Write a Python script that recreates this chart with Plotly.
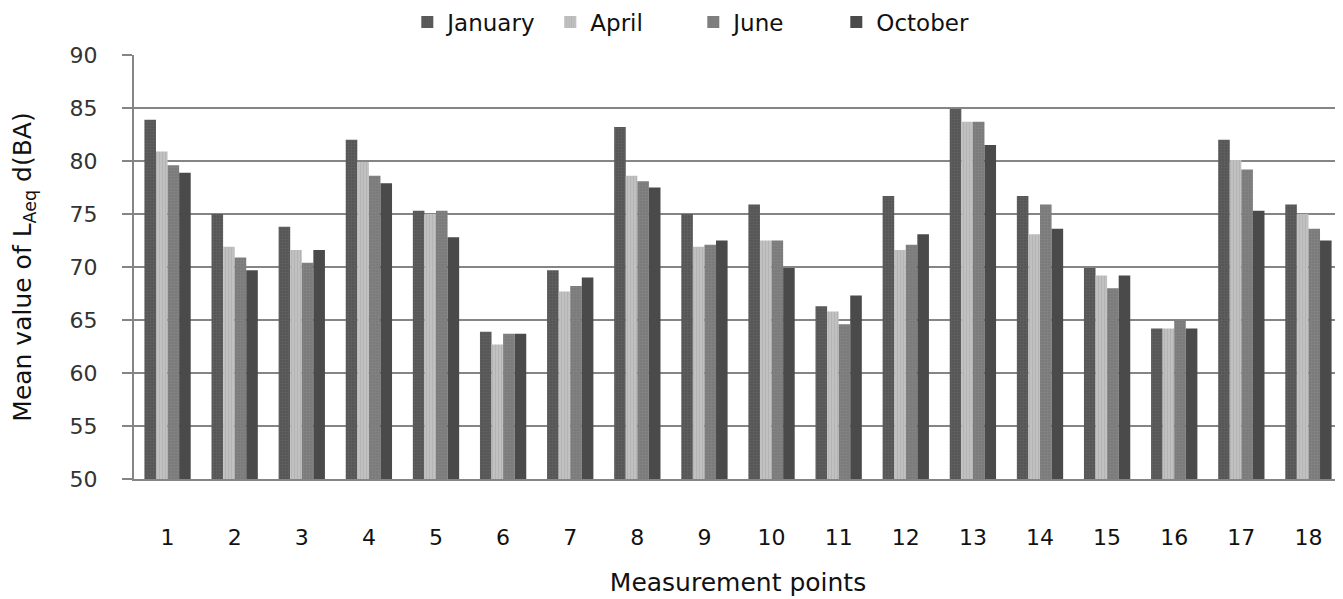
import plotly.graph_objects as go

points = [str(i) for i in range(1, 19)]
january = [83.9, 75.0, 73.8, 82.0, 75.3, 63.9, 69.7, 83.2, 75.0, 75.9, 66.3, 76.7, 84.9, 76.7, 69.9, 64.2, 82.0, 75.9]
april   = [80.9, 71.9, 71.6, 79.9, 75.0, 62.7, 67.7, 78.6, 71.9, 72.5, 65.8, 71.6, 83.7, 73.1, 69.2, 64.2, 80.1, 75.0]
june    = [79.6, 70.9, 70.4, 78.6, 75.3, 63.7, 68.2, 78.1, 72.1, 72.5, 64.6, 72.1, 83.7, 75.9, 68.0, 65.0, 79.2, 73.6]
october = [78.9, 69.7, 71.6, 77.9, 72.8, 63.7, 69.0, 77.5, 72.5, 69.9, 67.3, 73.1, 81.5, 73.6, 69.2, 64.2, 75.3, 72.5]

series = [
    ("January", january, "#525252", dict(shape=".", fgcolor="#6e6e6e", bgcolor="#525252", size=3, solidity=0.5)),
    ("April", april, "#b8b8b8", dict(shape="|", fgcolor="#a6a6a6", bgcolor="#c2c2c2", size=3, solidity=0.4)),
    ("June", june, "#7c7c7c", dict(shape=".", fgcolor="#8e8e8e", bgcolor="#787878", size=3, solidity=0.5)),
    ("October", october, "#4a4a4a", None),
]

fig = go.Figure()
for name, vals, col, pat in series:
    marker = dict(color=col, line=dict(width=0))
    if pat:
        marker["pattern"] = pat
    fig.add_trace(go.Bar(x=points, y=vals, name=name, marker=marker))

font_family = "DejaVu Sans"
fig.update_layout(
    width=1335, height=591,
    barmode="group", bargap=0.31, bargroupgap=0,
    plot_bgcolor="white", paper_bgcolor="white",
    margin=dict(l=126, r=1, t=47, b=120, autoexpand=False),
    font=dict(family=font_family, size=19, color="#222222"),
    legend=dict(orientation="h", x=0.463, xanchor="center", y=1.078, yanchor="middle",
                font=dict(size=23, color="#111111"), traceorder="normal", tracegroupgap=0,
                entrywidth=98, entrywidthmode="pixels"),
    showlegend=True,
)
fig.update_yaxes(
    automargin=False,
    range=[50, 90], dtick=5, showgrid=True, gridcolor="#858585", gridwidth=2,
    showline=True, linecolor="#858585", linewidth=2,
    ticks="outside", ticklen=10, tickcolor="#858585", tickwidth=2,
    ticklabelstandoff=20,
    tickfont=dict(size=22, color="#333333"),
    title=dict(text="Mean value of L<sub>Aeq</sub> d(BA)", font=dict(size=25, color="#111111"), standoff=31),
    zeroline=False,
)
fig.update_xaxes(
    automargin=False,
    showline=True, linecolor="#858585", linewidth=2, ticks="",
    ticklabelstandoff=38,
    tickfont=dict(size=22, color="#111111"),
    title=dict(text="Measurement points", font=dict(size=25, color="#111111"), standoff=24),
)
fig.write_html("out.html")
